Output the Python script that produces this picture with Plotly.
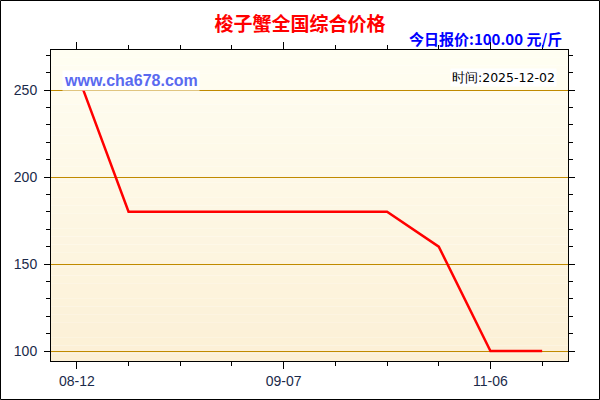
import plotly.graph_objects as go

# 数据
dates = ["08-12", "08-19", "08-26", "09-01", "09-07", "09-21", "10-10", "10-24", "11-06", "12-02"]
prices = [260, 180, 180, 180, 180, 180, 180, 160, 100, 100]
label_dates = ["08-12", "09-07", "11-06"]

title_text = "梭子蟹全国综合价格"
today_text = "今日报价:100.00 元/斤"
site_text = "www.cha678.com"
time_text = "时间:2025-12-02"

x_idx = list(range(len(dates)))
tick_idx = [dates.index(d) for d in label_dates]

# 画布尺寸与边距
W, H = 600, 400
ml, mr, mt, mb = 51, 32, 50, 39
pw, ph = W - ml - mr, H - mt - mb

fig = go.Figure()

fig.add_trace(go.Scatter(
    x=x_idx,
    y=prices,
    mode="lines",
    line=dict(color="#FF0000", width=2.5),
    text=dates,
    hovertemplate="%{text}: %{y}<extra></extra>",
))

# 背景渐变 (上浅下暖)
top_rgb = (255, 254, 242)
bot_rgb = (252, 240, 214)
n = 40
shapes = []
for i in range(n):
    t = i / (n - 1)
    c = tuple(round(top_rgb[k] + (bot_rgb[k] - top_rgb[k]) * t) for k in range(3))
    shapes.append(dict(
        type="rect", xref="paper", yref="paper",
        x0=0, x1=1, y0=1 - (i + 1) / n, y1=1 - i / n,
        fillcolor="rgb(%d,%d,%d)" % c, line=dict(width=0), layer="below",
    ))
# 外边框
shapes.append(dict(
    type="rect", xref="paper", yref="paper",
    x0=-ml / pw + 0.5 / pw, x1=(W - ml - 0.5) / pw,
    y0=-mb / ph + 0.5 / ph, y1=(H - mb - 0.5) / ph,
    line=dict(color="black", width=1), fillcolor="rgba(0,0,0,0)",
))

tick_font = dict(family="Liberation Sans, Arial", size=14, color="#1A2A4A")

fig.update_layout(
    width=W, height=H,
    margin=dict(l=ml, r=mr, t=mt, b=mb),
    paper_bgcolor="white",
    plot_bgcolor="rgba(0,0,0,0)",
    showlegend=False,
    shapes=shapes,
    title=dict(
        text="<b>%s</b>" % title_text,
        x=0.5, xanchor="center", y=1 - 24 / H, yanchor="middle",
        font=dict(family="Noto Sans CJK SC", size=19, color="#FF0000"),
    ),
    xaxis=dict(
        range=[-0.5, len(dates) - 0.5],
        tickmode="array", tickvals=tick_idx, ticktext=label_dates,
        ticks="outside", ticklen=7, tickcolor="black",
        minor=dict(dtick=1, tick0=0, ticks="outside", ticklen=4, tickcolor="black", showgrid=False),
        showgrid=False, zeroline=False,
        showline=True, linecolor="black", linewidth=1, mirror="ticks",
        tickfont=tick_font,
    ),
    yaxis=dict(
        range=[94.25, 273],
        tickmode="linear", tick0=100, dtick=50,
        ticks="outside", ticklen=6, tickcolor="black",
        minor=dict(dtick=10, ticks="outside", ticklen=4, tickcolor="black", showgrid=False),
        showgrid=True, gridcolor="#C08A00", gridwidth=1,
        zeroline=False,
        showline=True, linecolor="black", linewidth=1, mirror="ticks",
        tickfont=tick_font, ticklabelstandoff=4,
    ),
    annotations=[
        dict(
            text="<b>%s</b>" % today_text,
            xref="paper", yref="paper",
            x=(564 - ml) / pw, y=(H - mb - 39) / ph,
            xanchor="right", yanchor="middle", showarrow=False,
            font=dict(family="Noto Sans CJK SC", size=15, color="#0000FF"),
        ),
        dict(
            text="<b>%s</b>" % site_text,
            xref="paper", yref="paper",
            x=(62 - ml) / pw, y=(H - mb - 80) / ph,
            xanchor="left", yanchor="middle", showarrow=False,
            bgcolor="white", borderpad=1,
            font=dict(family="Liberation Sans, Arial", size=16, color="#5A6AF0"),
        ),
        dict(
            text=time_text,
            xref="paper", yref="paper",
            x=(557 - ml) / pw, y=(H - mb - 77) / ph,
            xanchor="right", yanchor="middle", showarrow=False,
            bgcolor="white",
            font=dict(family="DejaVu Sans", size=12.5, color="black"),
        ),
    ],
)

fig.write_html(
    "out.html",
    config={"displayModeBar": False},
    post_script="document.body.style.margin='0';",
)
